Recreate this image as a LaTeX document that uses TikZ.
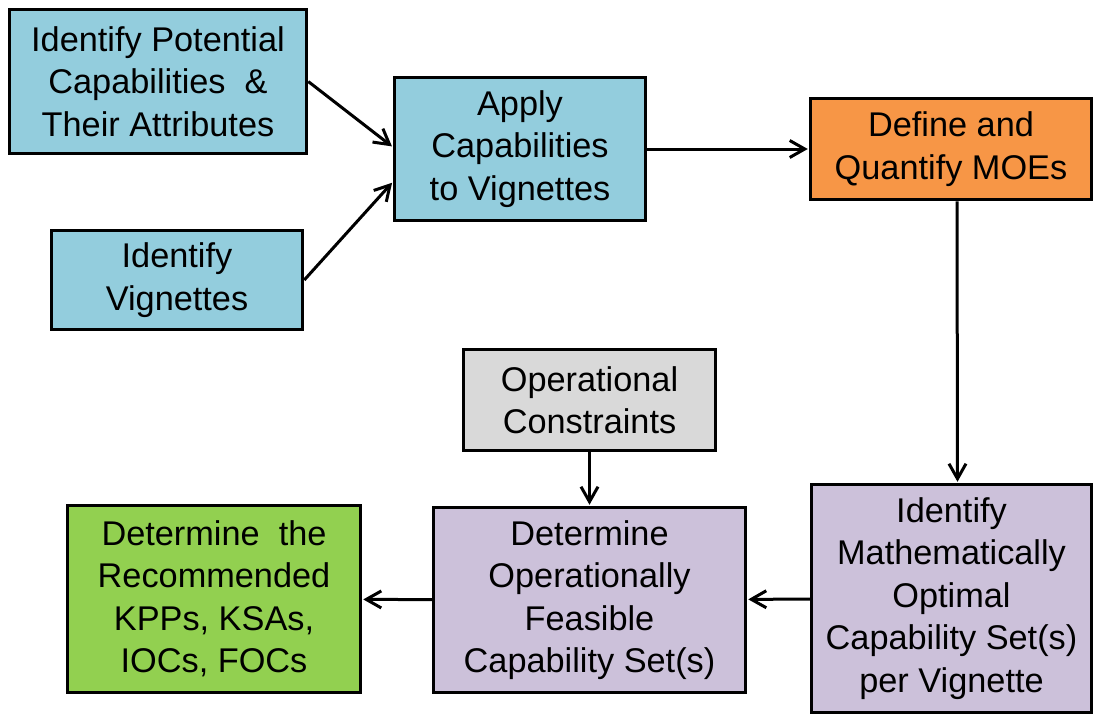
\documentclass[tikz,border=0pt]{standalone}
\usepackage{fontspec}
\setmainfont{Liberation Sans}
\usetikzlibrary{arrows.meta}
\definecolor{capblue}{HTML}{93CDDD}
\definecolor{moeorange}{HTML}{F79646}
\definecolor{congray}{HTML}{D9D9D9}
\definecolor{setlilac}{HTML}{CCC1DA}
\definecolor{kppgreen}{HTML}{92D050}

\begin{document}
\begin{tikzpicture}[x=1pt,y=-1pt,shorten >=1pt,
		>={Straight Barb[length=15pt,width=17pt]},
		flow/.style = {->,line width=3pt},
		box node/.style = {rectangle,draw,line width=3.5pt,inner sep=0pt,align=center,
			font=\fontsize{34.3}{42.5}\selectfont}]
		
		\useasboundingbox (0,0) rectangle (1094,715);
		
		\node[box node,fill=capblue,minimum width=297pt,minimum height=144pt] at (158,81.5) (1) {Identify Potential\\Capabilities \ \&\\Their Attributes};
		\node[box node,fill=capblue,minimum width=251pt,minimum height=99pt] at (177,280) (2) {Identify\\Vignettes};
		\node[box node,fill=capblue,minimum width=251pt,minimum height=143pt] at (520,149) (3) {Apply\\Capabilities\\to Vignettes};
		\node[box node,fill=moeorange,minimum width=281pt,minimum height=101pt] at (951,149) (4) {Define and\\Quantify MOEs};
		\node[box node,fill=congray,minimum width=252pt,minimum height=101pt] at (589.5,400) (5) {Operational\\Constraints};
		\node[box node,fill=setlilac,minimum width=280pt,minimum height=228pt] at (951.5,598.5) (6) {Identify\\Mathematically\\Optimal\\Capability Set(s)\\per Vignette};
		\node[box node,fill=setlilac,minimum width=312pt,minimum height=185pt] at (589.5,600) (7) {Determine\\Operationally\\Feasible\\Capability Set(s)};
		\node[box node,fill=kppgreen,minimum width=293pt,minimum height=187pt] at (214,599) (8) {Determine \ the\\Recommended\\KPPs, KSAs,\\IOCs, FOCs};
		
		\draw[flow] (1.east) -- ([yshift=2pt]3.west);
		\draw[flow] (2.east) -- ([yshift=-33pt]3.west);
		\draw[flow] (3) -- (4);
		\draw[flow] ([xshift=6pt]4.south) -- ([xshift=6pt]6.north);
		\draw[flow] (6) -- (7);
		\draw[flow] (5) -- (7);
		\draw[flow] (7) -- (8);
\end{tikzpicture}
\end{document}
